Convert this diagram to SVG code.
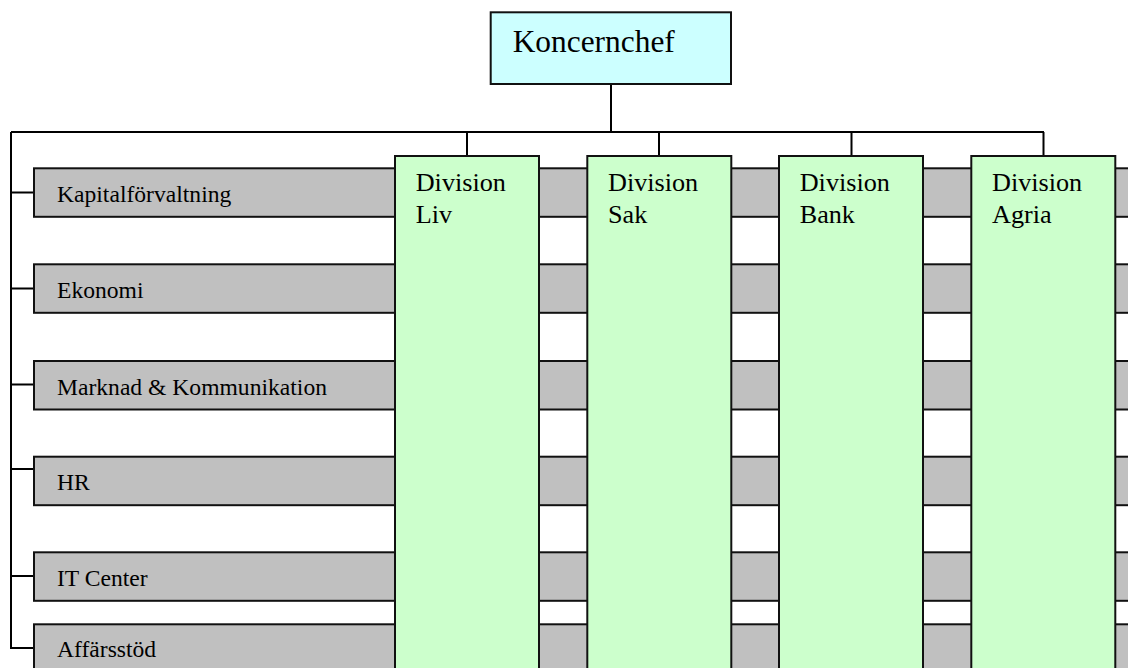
<svg xmlns="http://www.w3.org/2000/svg" width="1128" height="668" viewBox="0 0 1128 668">
<style>
.conn{fill:none;stroke:#000;stroke-width:2}
.staff{fill:#C0C0C0;stroke:#111;stroke-width:2}
.div{fill:#CCFFCC;stroke:#111;stroke-width:2}
.top{fill:#CCFFFF;stroke:#111;stroke-width:2}
.lbl{font-family:"Liberation Serif","Times New Roman",serif;font-size:23.6px;fill:#000}
.dlbl{font-family:"Liberation Serif","Times New Roman",serif;font-size:26.2px;fill:#000}
.tlbl{font-family:"Liberation Serif","Times New Roman",serif;font-size:31.4px;fill:#000}
</style>
<rect width="1128" height="668" fill="#fff"/>
<g id="connectors">
<path class="conn" d="M611 84V132M11 132H1044M467 132V156M659 132V156M851.5 132V156M1043.5 132V156M11 132V648H34M11 192.5H34M11 288.5H34M11 384.5H34M11 469H34M11 576H34"/>
</g>
<g id="kapitalforvaltning"><rect class="staff" x="34" y="168.3" width="1100" height="48.5"/><text class="lbl" x="57" y="201.7">Kapitalförvaltning</text></g>
<g id="ekonomi"><rect class="staff" x="34" y="264.3" width="1100" height="48.5"/><text class="lbl" x="57" y="297.8">Ekonomi</text></g>
<g id="marknad"><rect class="staff" x="34" y="361" width="1100" height="48.5"/><text class="lbl" x="57" y="394.5">Marknad &amp; Kommunikation</text></g>
<g id="hr"><rect class="staff" x="34" y="456.7" width="1100" height="48.5"/><text class="lbl" x="57" y="490.2">HR</text></g>
<g id="itcenter"><rect class="staff" x="34" y="552.3" width="1100" height="48.5"/><text class="lbl" x="57" y="585.8">IT Center</text></g>
<g id="affarsstod"><rect class="staff" x="34" y="624.3" width="1100" height="60"/><text class="lbl" x="57" y="656.8">Affärsstöd</text></g>
<g id="koncernchef"><rect class="top" x="490.7" y="12.3" width="240.3" height="71.7"/><text class="tlbl" x="512.7" y="51.7">Koncernchef</text></g>
<g id="division-liv"><rect class="div" x="395" y="156" width="144" height="530"/><text class="dlbl" x="415.7" y="190.7">Division</text><text class="dlbl" x="415.7" y="223.3">Liv</text></g>
<g id="division-sak"><rect class="div" x="587.3" y="156" width="144" height="530"/><text class="dlbl" x="608" y="190.7">Division</text><text class="dlbl" x="608" y="223.3">Sak</text></g>
<g id="division-bank"><rect class="div" x="779" y="156" width="144" height="530"/><text class="dlbl" x="799.7" y="190.7">Division</text><text class="dlbl" x="799.7" y="223.3">Bank</text></g>
<g id="division-agria"><rect class="div" x="971.3" y="156" width="144" height="530"/><text class="dlbl" x="992" y="190.7">Division</text><text class="dlbl" x="992" y="223.3">Agria</text></g>
</svg>
